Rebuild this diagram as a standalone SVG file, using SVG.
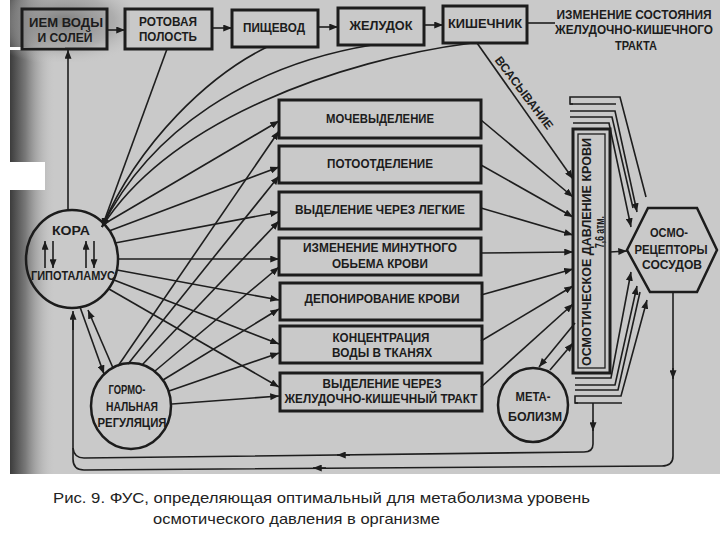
<svg xmlns="http://www.w3.org/2000/svg" width="720" height="540" viewBox="0 0 720 540">
<defs>
<linearGradient id="edge" x1="0" y1="0" x2="1" y2="0">
<stop offset="0" stop-color="#3c3c3c"/>
<stop offset="0.35" stop-color="#7a7a7a"/>
<stop offset="1" stop-color="#c6c6c6" stop-opacity="0"/>
</linearGradient>
<radialGradient id="tl" cx="0.45" cy="0.35" r="0.7">
<stop offset="0" stop-color="#7c7c7c"/>
<stop offset="0.6" stop-color="#9a9a9a" stop-opacity="0.6"/>
<stop offset="1" stop-color="#c6c6c6" stop-opacity="0"/>
</radialGradient>
<marker id="a" viewBox="0 0 10 8" refX="10" refY="4" markerWidth="9" markerHeight="7" orient="auto" markerUnits="userSpaceOnUse">
<path d="M0,0 L10,4 L0,8 z" fill="#1c1c1c"/>
</marker>
<style>
.t{font-family:"Liberation Sans",Arial,sans-serif;font-size:12px;font-weight:bold;fill:#1c1c1c;text-anchor:middle}
.box{fill:none;stroke:#1c1c1c;stroke-width:3}
.thin{fill:none;stroke:#1c1c1c;stroke-width:1.3}
.ln{fill:none;stroke:#1e1e1e;stroke-width:1.6}
.ar{fill:none;stroke:#1e1e1e;stroke-width:1.6;marker-end:url(#a)}
.cap{font-family:"Liberation Sans",Arial,sans-serif;font-size:15px;fill:#222}
</style>
</defs>

<!-- scanned page background -->
<rect x="0" y="0" width="720" height="540" fill="#ffffff"/>
<rect x="10" y="0" width="710" height="474" fill="#c9c9c9"/>
<rect x="10" y="0" width="45" height="474" fill="url(#edge)"/>
<rect x="10" y="0" width="120" height="62" fill="url(#tl)"/>
<rect x="0" y="47" width="65" height="3" fill="#ffffff"/>
<rect x="0" y="162" width="45" height="28" fill="#ffffff"/>

<!-- connectors -->
<g id="connectors">
<!-- top chain -->
<path class="ar" d="M107,30 L125,30"/>
<path class="ar" d="M212,28 L232,28"/>
<path class="ar" d="M318,27 L338,27"/>
<path class="ar" d="M424,25 L443,25"/>
<path class="ln" d="M527,23 L555,23"/>
<!-- afferents to KORA -->
<path class="ar" d="M167,49 L102,227"/>
<path class="ar" d="M267,47 C210,75 140,140 102,227"/>
<path class="ar" d="M372,45 C250,65 150,130 102,227"/>
<path class="ar" d="M472,43 C340,60 170,120 102,227"/>
<!-- KORA to intake -->
<path class="ar" d="M68,210 L68,50"/>
<!-- KORA efferents -->
<path class="ar" d="M104,224 L279,121"/>
<path class="ar" d="M109,231 L279,167"/>
<path class="ar" d="M115,243 L279,212"/>
<path class="ar" d="M118,259 L279,259"/>
<path class="ar" d="M117,270 L279,300"/>
<path class="ar" d="M114,280 L279,344"/>
<path class="ar" d="M109,289 L279,387"/>
<!-- hormonal efferents -->
<path class="ar" d="M118,366 L279,131"/>
<path class="ar" d="M128,364 L279,176"/>
<path class="ar" d="M142,365 L279,221"/>
<path class="ar" d="M155,371 L279,267"/>
<path class="ar" d="M163,380 L279,309"/>
<path class="ar" d="M169,391 L279,353"/>
<path class="ar" d="M172,404 L279,396"/>
<!-- between circles -->
<path class="ar" d="M80,307 L104,374"/>
<path class="ar" d="M113,368 L88,310"/>
<!-- absorption -->
<path class="ar" d="M477,43 L573,179"/>
<!-- effectors to osmotic pressure -->
<path class="ar" d="M481,120 L573,197"/>
<path class="ar" d="M481,165 L573,217"/>
<path class="ar" d="M481,208 L573,235"/>
<path class="ar" d="M481,253 L573,252"/>
<path class="ar" d="M481,295 L573,269"/>
<path class="ar" d="M481,341 L573,286"/>
<path class="ar" d="M481,387 L573,304"/>
<!-- metabolism -->
<path class="ar" d="M550,370 L573,343"/>
<path class="ar" d="M575,323 L539,367"/>
<!-- osmotic to receptors -->
<path class="ar" d="M610,252 L627,251"/>
<!-- top pipes -->
<path class="ln" d="M573,104 H570 V97 H620 L646,197"/>
<path class="ln" d="M570,104 H616"/>
<path class="ar" d="M570,111 H615 L637,212"/>
<path class="ln" d="M570,117 H612 L633,208"/>
<path class="ar" d="M573,123 H609 L631,227"/>
<!-- bottom pipes -->
<path class="ar" d="M575,378 H611 L631,272"/>
<path class="ar" d="M575,385 H615 L637,286"/>
<path class="ln" d="M575,390 H618 L640,292"/>
<path class="ar" d="M578,403 H575 V396 H621 L647,300"/>
<path class="ln" d="M575,403 H622"/>
<!-- return lines -->
<path class="ln" d="M593,403 V444 Q593,452 584,452 L84,458 Q74,458 73,448"/>
<path class="ln" d="M673,292 V456 Q673,466 662,466 L84,470 Q73,470 73,459 V320"/>
<path class="ar" d="M73,330 L73,311"/>
<path class="ar" d="M593,420 L593,431"/>
<path class="ar" d="M673,368 L673,379"/>
<path class="ar" d="M350,455 L337,455"/>
<path class="ar" d="M326,468 L313,468"/>
</g>

<!-- top row nodes -->
<g id="intake"><rect class="box" x="22" y="9" width="85" height="40"/>
<text class="t" x="66" y="27" textLength="74" lengthAdjust="spacingAndGlyphs">ИЕМ ВОДЫ</text>
<text class="t" x="65" y="42" textLength="55" lengthAdjust="spacingAndGlyphs">И СОЛЕЙ</text></g>
<g id="mouth"><rect class="box" x="125" y="9" width="87" height="40"/>
<text class="t" x="168" y="26" textLength="58" lengthAdjust="spacingAndGlyphs">РОТОВАЯ</text>
<text class="t" x="168" y="41" textLength="58" lengthAdjust="spacingAndGlyphs">ПОЛОСТЬ</text></g>
<g id="esophagus"><rect class="box" x="232" y="10" width="86" height="37"/>
<text class="t" x="274" y="32" textLength="62" lengthAdjust="spacingAndGlyphs">ПИЩЕВОД</text></g>
<g id="stomach"><rect class="box" x="338" y="8" width="86" height="37"/>
<text class="t" x="381" y="30" textLength="63" lengthAdjust="spacingAndGlyphs">ЖЕЛУДОК</text></g>
<g id="intestine"><rect class="box" x="443" y="6" width="84" height="37"/>
<text class="t" x="485" y="28" textLength="74" lengthAdjust="spacingAndGlyphs">КИШЕЧНИК</text></g>
<g id="gi-change">
<text class="t" x="634" y="19" textLength="155" lengthAdjust="spacingAndGlyphs">ИЗМЕНЕНИЕ СОСТОЯНИЯ</text>
<text class="t" x="634" y="34" textLength="158" lengthAdjust="spacingAndGlyphs">ЖЕЛУДОЧНО-КИШЕЧНОГО</text>
<text class="t" x="636" y="50" textLength="42" lengthAdjust="spacingAndGlyphs">ТРАКТА</text></g>
<g id="absorption-label">
<text class="t" transform="translate(524,93) rotate(53)" x="0" y="4" font-size="11" textLength="88" lengthAdjust="spacingAndGlyphs">ВСАСЫВАНИЕ</text></g>

<!-- effector boxes -->
<g id="urine"><rect class="box" x="279" y="100" width="202" height="38"/>
<text class="t" x="380" y="123" textLength="108" lengthAdjust="spacingAndGlyphs">МОЧЕВЫДЕЛЕНИЕ</text></g>
<g id="sweat"><rect class="box" x="279" y="146" width="202" height="37"/>
<text class="t" x="380" y="168" textLength="106" lengthAdjust="spacingAndGlyphs">ПОТООТДЕЛЕНИЕ</text></g>
<g id="lungs"><rect class="box" x="279" y="192" width="202" height="37"/>
<text class="t" x="380" y="214" textLength="170" lengthAdjust="spacingAndGlyphs">ВЫДЕЛЕНИЕ ЧЕРЕЗ ЛЕГКИЕ</text></g>
<g id="volume"><rect class="box" x="279" y="238" width="202" height="37"/>
<text class="t" x="380" y="252" textLength="154" lengthAdjust="spacingAndGlyphs">ИЗМЕНЕНИЕ МИНУТНОГО</text>
<text class="t" x="380" y="268" textLength="96" lengthAdjust="spacingAndGlyphs">ОБЬЕМА КРОВИ</text></g>
<g id="deposit"><rect class="box" x="280" y="283" width="202" height="37"/>
<text class="t" x="382" y="303" textLength="155" lengthAdjust="spacingAndGlyphs">ДЕПОНИРОВАНИЕ КРОВИ</text></g>
<g id="tissue"><rect class="box" x="280" y="326" width="202" height="37"/>
<text class="t" x="381" y="342" textLength="97" lengthAdjust="spacingAndGlyphs">КОНЦЕНТРАЦИЯ</text>
<text class="t" x="382" y="357" textLength="100" lengthAdjust="spacingAndGlyphs">ВОДЫ В ТКАНЯХ</text></g>
<g id="gi-excretion"><rect class="box" x="280" y="373" width="202" height="38"/>
<text class="t" x="382" y="388" textLength="119" lengthAdjust="spacingAndGlyphs">ВЫДЕЛЕНИЕ ЧЕРЕЗ</text>
<text class="t" x="381" y="403" textLength="193" lengthAdjust="spacingAndGlyphs">ЖЕЛУДОЧНО-КИШЕЧНЫЙ ТРАКТ</text></g>

<!-- circles -->
<g id="cortex"><ellipse cx="72" cy="259" rx="46" ry="49" fill="none" stroke="#1c1c1c" stroke-width="2.5"/>
<text class="t" x="71" y="235" textLength="38" lengthAdjust="spacingAndGlyphs">КОРА</text>
<path class="ar" d="M45,268 L45,241"/>
<path class="ar" d="M53,241 L53,268"/>
<path class="ar" d="M86,268 L86,241"/>
<path class="ar" d="M94,241 L94,268"/>
<text class="t" x="73" y="280" textLength="84" lengthAdjust="spacingAndGlyphs">ГИПОТАЛАМУС</text></g>
<g id="hormonal"><ellipse cx="131" cy="406" rx="40" ry="43" fill="none" stroke="#1c1c1c" stroke-width="2.5"/>
<text class="t" x="127" y="394" textLength="37" lengthAdjust="spacingAndGlyphs">ГОРМО-</text>
<text class="t" x="132" y="411" textLength="52" lengthAdjust="spacingAndGlyphs">НАЛЬНАЯ</text>
<text class="t" x="132" y="427" textLength="69" lengthAdjust="spacingAndGlyphs">РЕГУЛЯЦИЯ</text></g>
<g id="metabolism"><ellipse cx="533" cy="405" rx="35" ry="37" fill="none" stroke="#1c1c1c" stroke-width="2.5"/>
<text class="t" x="533" y="401" textLength="35" lengthAdjust="spacingAndGlyphs">МЕТА-</text>
<text class="t" x="535" y="421" textLength="54" lengthAdjust="spacingAndGlyphs">БОЛИЗМ</text></g>

<!-- osmotic pressure -->
<g id="osmotic"><rect class="box" x="573" y="129" width="37" height="244"/>
<rect class="thin" x="578" y="134" width="27" height="234"/>
<text class="t" transform="translate(591,252) rotate(-90)" x="0" y="0" textLength="228" lengthAdjust="spacingAndGlyphs">ОСМОТИЧЕСКОЕ ДАВЛЕНИЕ КРОВИ</text>
<text class="t" transform="translate(604,232) rotate(-90)" x="0" y="0" textLength="32" lengthAdjust="spacingAndGlyphs">7,6 атм.</text></g>

<!-- receptors -->
<g id="receptors"><polygon points="627,250 648,208 697,208 717,250 697,292 650,292" fill="none" stroke="#1c1c1c" stroke-width="2.5"/>
<text class="t" x="669" y="237" textLength="38" lengthAdjust="spacingAndGlyphs">ОСМО-</text>
<text class="t" x="671" y="254" textLength="73" lengthAdjust="spacingAndGlyphs">РЕЦЕПТОРЫ</text>
<text class="t" x="672" y="269" textLength="60" lengthAdjust="spacingAndGlyphs">СОСУДОВ</text></g>

<!-- caption -->
<g id="caption">
<text class="cap" x="53" y="503" textLength="537" lengthAdjust="spacingAndGlyphs">Рис. 9. ФУС,  определяющая оптимальный  для метаболизма уровень</text>
<text class="cap" x="153" y="524" textLength="287" lengthAdjust="spacingAndGlyphs">осмотического давления в организме</text>
</g>
</svg>
